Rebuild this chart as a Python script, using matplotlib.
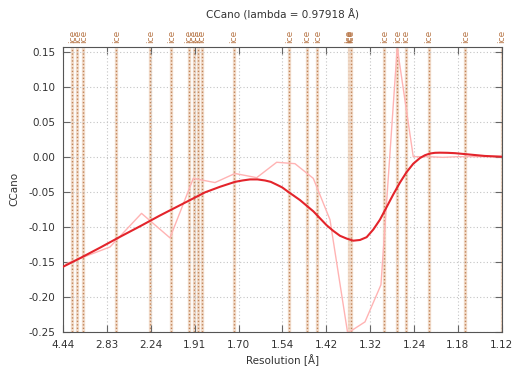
import numpy as np
import matplotlib
matplotlib.use("Agg")
import matplotlib.pyplot as plt

# axe x : 1/d^2, etiquettes en resolution
x_min, x_max = 0.0507, 0.7917
tick_labels = ["4.44", "2.83", "2.24", "1.91", "1.70", "1.54", "1.42",
               "1.32", "1.24", "1.18", "1.12"]

# anneaux de glace (resolution en A)
ice_d = [3.897, 3.669, 3.441, 2.671, 2.249, 2.070, 1.950, 1.920, 1.897,
         1.874, 1.718, 1.520, 1.471, 1.443, 1.369, 1.367, 1.365, 1.298,
         1.275, 1.260, 1.223, 1.170, 1.124]

# CCano brut (1/d^2, valeur)
raw_s = [0.0553, 0.1296, 0.1829, 0.2310, 0.2704, 0.3071, 0.3409, 0.3776,
         0.4114, 0.4423, 0.4733, 0.5015, 0.5314, 0.5607, 0.5877, 0.6152,
         0.6423, 0.6671, 0.6924, 0.7178, 0.7432, 0.7685, 0.7905]
raw_cc = [-0.153, -0.129, -0.081, -0.116, -0.031, -0.037, -0.024, -0.030,
          -0.008, -0.010, -0.031, -0.090, -0.252, -0.236, -0.183, 0.156,
          0.000, 0.000, -0.001, 0.000, 0.000, 0.000, 0.000]

# CCano lisse
fit_s = [0.0507, 0.0789, 0.1127, 0.1465, 0.1820, 0.2141, 0.2395, 0.2649,
         0.2902, 0.3156, 0.3409, 0.3536, 0.3663, 0.3790, 0.3916, 0.4015,
         0.4114, 0.4209, 0.4305, 0.4407, 0.4508, 0.4620, 0.4733, 0.4846,
         0.4959, 0.5071, 0.5184, 0.5297, 0.5409, 0.5522, 0.5635, 0.5748,
         0.5860, 0.5973, 0.6085, 0.6198, 0.6311, 0.6424, 0.6536, 0.6620,
         0.6705, 0.6790, 0.6874, 0.7000, 0.7128, 0.7381, 0.7635, 0.7917]
fit_cc = [-0.157, -0.145, -0.130, -0.1145, -0.0987, -0.084, -0.073, -0.062,
          -0.051, -0.043, -0.036, -0.034, -0.0325, -0.0325, -0.034, -0.036,
          -0.040, -0.044, -0.050, -0.056, -0.062, -0.070, -0.078, -0.088,
          -0.098, -0.106, -0.113, -0.117, -0.120, -0.119, -0.115, -0.104,
          -0.090, -0.072, -0.054, -0.037, -0.022, -0.010, -0.002, 0.002,
          0.0045, 0.0055, 0.0057, 0.0055, 0.005, 0.003, 0.001, 0.000]

fig = plt.figure(figsize=(5.15, 3.71), dpi=100)
ax = fig.add_axes([0.123, 0.105, 0.851, 0.769])

ice_col = "#b8784a"
for d in ice_d:
    s = 1.0 / d ** 2
    ax.axvline(s, color="#f2dccb", lw=2.4, zorder=1)
    ax.axvline(s, color="#c08458", lw=1.0, ls=(0, (1, 1.5)), zorder=1)
    ax.text(s, 1.012, "ice", transform=ax.get_xaxis_transform(), rotation=90,
            ha="center", va="bottom", fontsize=6.5, color=ice_col, clip_on=False)

ax.plot(raw_s, raw_cc, color="#ffb3b3", lw=1.0, zorder=2)
ax.plot(fit_s, fit_cc, color="#e3242b", lw=1.5, zorder=3)

ax.set_xlim(x_min, x_max)
ax.set_ylim(-0.2505, 0.157)
ax.set_xticks(np.linspace(x_min, x_max, len(tick_labels)))
ax.set_xticklabels(tick_labels)
yt = np.round(np.arange(-0.25, 0.151, 0.05), 2)
ax.set_yticks(yt)
ax.set_yticklabels(["%.2f" % (v + 0.0) for v in yt])

ax.grid(True, color="#c4c4c4", ls=(0, (1, 2)), lw=0.8)
ax.tick_params(direction="in", length=5, top=True, right=True,
               labelsize=7.5, labelcolor="#333333", color="#666666", pad=6)
for sp in ax.spines.values():
    sp.set_color("#555555")

ax.set_title("CCano (lambda = 0.97918 Å)", fontsize=7.5, color="#333333", pad=20)
ax.set_xlabel("Resolution [Å]", fontsize=7.5, color="#333333", labelpad=3)
ax.set_ylabel("CCano", fontsize=7.5, color="#333333", labelpad=6)

fig.savefig("out.png", dpi=100)
